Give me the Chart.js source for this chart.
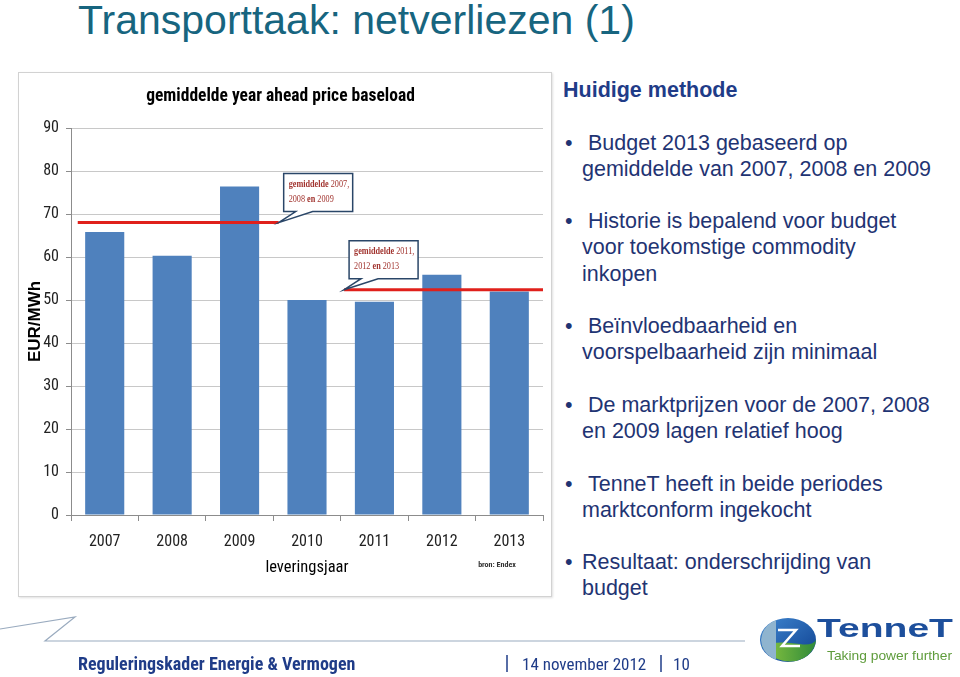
<!DOCTYPE html>
<html>
<head>
<meta charset="utf-8">
<script src="https://cdn.jsdelivr.net/npm/chart.js@4.4.1/dist/chart.umd.min.js"></script>
<style>
  body { margin: 0; background: #fff; }
  #slide { position: relative; width: 960px; height: 677px; overflow: hidden; font-family: 'Liberation Sans', Arial, sans-serif; }
  .title { position: absolute; left: 78px; top: -1px; font-size: 41px; line-height: 42px; color: #17657f; white-space: nowrap; }
  #frame { position: absolute; left: 18px; top: 72px; width: 534px; height: 525px; box-sizing: border-box; border: 1px solid #d2d2d2; box-shadow: 1px 1px 2px rgba(0,0,0,.12); }
  #chart { position: absolute; left: 18px; top: 72px; }
  .head { position: absolute; left: 563px; top: 77px; font-size: 21.5px; font-weight: bold; color: #1f3c88; line-height: 26px; white-space: nowrap; }
  .para { position: absolute; left: 582px; font-size: 21.5px; line-height: 26.3px; color: #1f3473; white-space: nowrap; }
  .para::before { content: '\2022'; position: absolute; left: -17px; top: 0; }
  .foot { position: absolute; top: 654px; font-family: 'Roboto Condensed', 'Liberation Sans', sans-serif; font-size: 17px; line-height: 20px; color: #1f3c88; white-space: nowrap; }
  #deco { position: absolute; left: 0; top: 0; }
</style>
</head>
<body>
<div id="slide">
  <div class="title">Transporttaak: netverliezen (1)</div>

  <div id="frame"></div>
  <canvas id="chart" width="534" height="525"></canvas>

  <div class="head">Huidige methode</div>
  <div class="para" style="top:130px">&nbsp;Budget 2013 gebaseerd op<br>gemiddelde van 2007, 2008 en 2009</div>
  <div class="para" style="top:208px">&nbsp;Historie is bepalend voor budget<br>voor toekomstige commodity<br>inkopen</div>
  <div class="para" style="top:313px">&nbsp;Beïnvloedbaarheid en<br>voorspelbaarheid zijn minimaal</div>
  <div class="para" style="top:392px">&nbsp;De marktprijzen voor de 2007, 2008<br>en 2009 lagen relatief hoog</div>
  <div class="para" style="top:471px">&nbsp;TenneT heeft in beide periodes<br>marktconform ingekocht</div>
  <div class="para" style="top:549px">Resultaat: onderschrijding van<br>budget</div>

  <svg id="deco" width="960" height="677">
    <polyline points="0,629 75,617 45,641 745,641" fill="none" stroke="#9aabbf" stroke-width="1.2"/>
    <line x1="507" y1="655" x2="507" y2="672" stroke="#1f3c88" stroke-width="1.5"/>
    <line x1="661" y1="655" x2="661" y2="672" stroke="#1f3c88" stroke-width="1.5"/>
    <defs>
      <linearGradient id="gBlue" x1="0" y1="0" x2="1" y2="1">
        <stop offset="0" stop-color="#3f86d0"/>
        <stop offset="1" stop-color="#0d3f8f"/>
      </linearGradient>
      <linearGradient id="gGreen" x1="0" y1="0" x2="1" y2="0">
        <stop offset="0" stop-color="#8cc63f"/>
        <stop offset="1" stop-color="#2f8a3a"/>
      </linearGradient>
    </defs>
    <ellipse cx="788" cy="640" rx="28" ry="22" fill="url(#gBlue)"/>
    <path d="M762,646 Q776,640 800,644 Q812,646 816,640 Q814,656 796,661 Q775,664 762,646 Z" fill="url(#gGreen)"/>
    <path d="M761,640 Q762,626 776,620 L776,660 Q762,654 761,640 Z" fill="#8fb4cf"/>
    <path d="M778,630 L796,630 L782,646 L800,646" fill="none" stroke="#fff" stroke-width="2.5"/>
    <text x="817" y="637" font-family="Liberation Sans, Arial, sans-serif" font-weight="bold" font-size="26" fill="#1d4f9c" textLength="136" lengthAdjust="spacingAndGlyphs">TenneT</text>
    <text x="827" y="660" font-family="Liberation Sans, Arial, sans-serif" font-size="13" fill="#5f9c3c" textLength="125" lengthAdjust="spacingAndGlyphs">Taking power further</text>
  </svg>

  <div class="foot" style="left:78px; font-weight:bold; font-size:18px;">Reguleringskader Energie &amp; Vermogen</div>
  <div class="foot" style="left:522px;">14 november 2012</div>
  <div class="foot" style="left:673px;">10</div>
</div>

<script>
// year ahead baseload prices (EUR/MWh)
const years = ['2007', '2008', '2009', '2010', '2011', '2012', '2013'];
const prices = [65.8, 60.3, 76.4, 50.0, 49.6, 55.9, 52.0];
const yTicks = [0, 10, 20, 30, 40, 50, 60, 70, 80, 90];

// averages over three years, spans in category index units
const avgValues = [68.0, 52.4];
const avgFrom = [-0.4, 3.55];
const avgTo = [2.58, 6.5];
const avgNotes = [
  [[['gemiddelde', true], [' 2007,', false]], [['2008 ', false], ['en', true], [' 2009', false]]],
  [[['gemiddelde', true], [' 2011,', false]], [['2012 ', false], ['en', true], [' 2013', false]]]
];

Chart.defaults.font.family = "'Roboto Condensed', 'Liberation Sans', sans-serif";
Chart.defaults.color = '#333';

const calloutPlugin = {
  id: 'callouts',
  afterDatasetsDraw(chart) {
    const {ctx, scales: {x2, y}} = chart;
    avgValues.forEach((v, i) => {
      // first note points at the end of its line, second at the start
      const tipX = x2.getPixelForValue(i === 0 ? avgTo[i] : avgFrom[i]);
      const tipY = y.getPixelForValue(v);
      const bw = 69, bh = 38;
      const bx = tipX + 5, by = tipY - bh - 11;
      ctx.save();
      ctx.beginPath();
      ctx.moveTo(bx, by);
      ctx.lineTo(bx + bw, by);
      ctx.lineTo(bx + bw, by + bh);
      ctx.lineTo(bx + 29, by + bh);
      ctx.lineTo(tipX, tipY);
      ctx.lineTo(bx + 12, by + bh);
      ctx.lineTo(bx, by + bh);
      ctx.closePath();
      ctx.fillStyle = '#fff';
      ctx.fill();
      ctx.strokeStyle = '#2a4668';
      ctx.lineWidth = 1.5;
      ctx.stroke();

      ctx.fillStyle = '#a23530';
      ctx.textBaseline = 'middle';
      avgNotes[i].forEach((line, li) => {
        ctx.save();
        ctx.translate(bx + 5, by + 11 + li * 15);
        ctx.scale(0.78, 1);
        let tx = 0;
        line.forEach(([txt, bold]) => {
          ctx.font = (bold ? 'bold ' : '') + "10.5px 'Liberation Serif', serif";
          ctx.fillText(txt, tx, 0);
          tx += ctx.measureText(txt).width;
        });
        ctx.restore();
      });
      ctx.restore();
    });
  },
  afterDraw(chart) {
    const {ctx, chartArea} = chart;
    ctx.save();
    ctx.font = "bold 8px 'Roboto Condensed', sans-serif";
    ctx.fillStyle = '#333';
    ctx.textAlign = 'center';
    ctx.textBaseline = 'middle';
    ctx.fillText('bron: Endex', chartArea.right - 46, chartArea.bottom + 50);
    ctx.restore();
  }
};

const lineSets = avgValues.map((v, i) => ({
  type: 'line',
  xAxisID: 'x2',
  data: [{x: avgFrom[i], y: v}, {x: avgTo[i], y: v}],
  borderColor: '#e0201b',
  borderWidth: 3,
  pointRadius: 0,
  order: 1
}));

new Chart(document.getElementById('chart'), {
  type: 'bar',
  data: {
    labels: years,
    datasets: [{
      data: prices,
      backgroundColor: '#4f81bd',
      barPercentage: 0.58,
      categoryPercentage: 1,
      grouped: false,
      order: 2
    }, ...lineSets]
  },
  options: {
    responsive: false,
    animation: false,
    layout: { padding: { left: 0, right: 9, top: 0, bottom: 0 } },
    plugins: {
      legend: { display: false },
      tooltip: { enabled: false },
      title: {
        display: true,
        text: 'gemiddelde year ahead price baseload',
        color: '#000',
        font: { size: 17.5, weight: 'bold' },
        padding: { top: 14, bottom: 21 }
      }
    },
    scales: {
      x: {
        afterFit: s => { s.height = 82; },
        grid: { drawOnChartArea: false, tickLength: 6, tickColor: '#8c8c8c' },
        border: { color: '#8c8c8c' },
        ticks: { color: '#222', font: { size: 16 }, padding: 11 },
        title: {
          display: true,
          text: 'leveringsjaar',
          color: '#000',
          font: { size: 16.5 },
          padding: { top: 0, bottom: 19 }
        }
      },
      x2: {
        type: 'linear',
        display: false,
        offset: false,
        grid: { offset: false },
        min: -0.5,
        max: 6.5
      },
      y: {
        min: yTicks[0],
        max: yTicks[yTicks.length - 1],
        afterBuildTicks: s => { s.ticks = yTicks.map(v => ({ value: v })); },
        afterFit: s => { s.width = 53; },
        grid: { color: '#c8c8c8', tickLength: 5, tickColor: '#8c8c8c' },
        border: { color: '#8c8c8c' },
        ticks: { color: '#222', font: { size: 16 }, padding: 7 },
        title: {
          display: true,
          text: 'EUR/MWh',
          color: '#000',
          font: { family: "'Liberation Sans', sans-serif", size: 17, weight: 'bold' },
          padding: { top: 7, bottom: 0 }
        }
      }
    }
  },
  plugins: [calloutPlugin]
});
</script>
</body>
</html>
